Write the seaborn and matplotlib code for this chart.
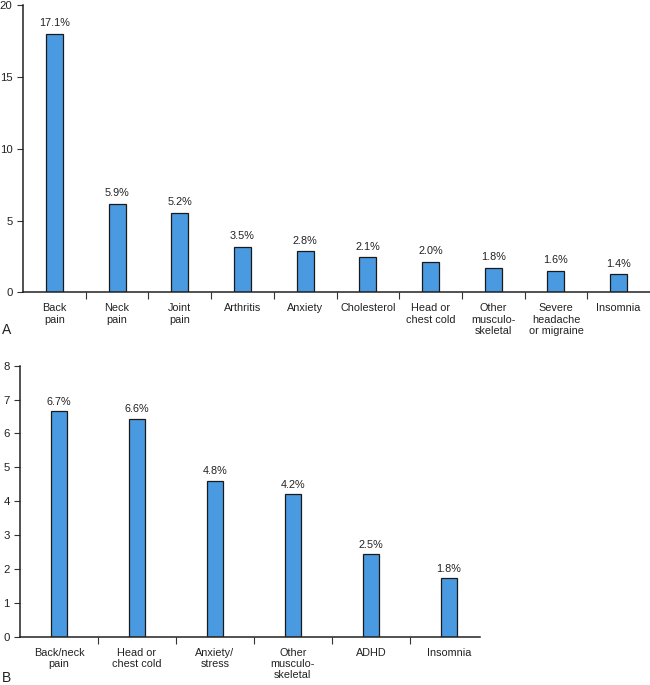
import matplotlib
matplotlib.use("Agg")
import matplotlib.pyplot as plt
import seaborn as sns
import pandas as pd

sns.set_theme(style="white")
plt.rcParams['font.family'] = ['Liberation Sans', 'DejaVu Sans']

cats_a = ["Back\npain", "Neck\npain", "Joint\npain", "Arthritis", "Anxiety",
          "Cholesterol", "Head or\nchest cold", "Other\nmusculo-\nskeletal",
          "Severe\nheadache\nor migraine", "Insomnia"]
vals_a = [18.0, 6.15, 5.55, 3.16, 2.86, 2.44, 2.13, 1.72, 1.48, 1.25]
labels_a = ["17.1%", "5.9%", "5.2%", "3.5%", "2.8%", "2.1%", "2.0%", "1.8%", "1.6%", "1.4%"]

cats_b = ["Back/neck\npain", "Head or\nchest cold", "Anxiety/\nstress",
          "Other\nmusculo-\nskeletal", "ADHD", "Insomnia"]
vals_b = [6.66, 6.44, 4.61, 4.22, 2.44, 1.72]
labels_b = ["6.7%", "6.6%", "4.8%", "4.2%", "2.5%", "1.8%"]

BAR = "#4a9ae2"
FS = 7.8
YFS = 8.2

fig = plt.figure(figsize=(6.5, 6.85), dpi=100)
axA = fig.add_axes([0.0354, 0.5733, 0.9646, 0.419])
axB = fig.add_axes([0.0308, 0.0705, 0.7077, 0.3956])


def panel(ax, cats, vals, labels, width, ylim, yticks, xright, gap_pts):
    df = pd.DataFrame({"cat": cats, "val": vals})
    sns.barplot(data=df, x="cat", y="val", ax=ax, color=BAR, saturation=1,
                width=width, edgecolor="#1a1a1a", linewidth=0.9)
    for p, lab in zip(ax.patches, labels):
        ax.annotate(lab, (p.get_x() + p.get_width() / 2, p.get_height()),
                    xytext=(0, gap_pts), textcoords="offset points",
                    ha="center", va="bottom", fontsize=FS, color="#222222")
    n = len(cats)
    ax.set_xlim(-0.5, xright)
    ax.set_ylim(*ylim)
    ax.set_yticks(yticks)
    ax.set_xlabel("")
    ax.set_ylabel("")
    ax.set_xticks([i + 0.5 for i in range(n - 1)])
    ax.set_xticklabels([])
    ax.set_xticks(list(range(n)), minor=True)
    ax.set_xticklabels(cats, minor=True, fontsize=FS, color="#222222",
                       linespacing=1.15, va="top")
    ax.tick_params(axis="x", which="major", direction="out", length=5,
                   width=0.8, color="#333333", bottom=True)
    ax.tick_params(axis="x", which="minor", length=0, pad=8, bottom=True)
    ax.tick_params(axis="y", direction="out", length=4.5, width=0.8,
                   color="#333333", labelsize=YFS, labelcolor="#222222", pad=3,
                   left=True)
    for s in ["top", "right"]:
        ax.spines[s].set_visible(False)
    for s in ["left", "bottom"]:
        ax.spines[s].set_color("#222222")
        ax.spines[s].set_linewidth(1.1)


panel(axA, cats_a, vals_a, labels_a, 0.27, (0, 20), [0, 5, 10, 15, 20], 9.5, 4)
panel(axB, cats_b, vals_b, labels_b, 0.21, (0, 8), list(range(0, 9)), 5.4, 3)

fig.text(0.003, 1 - 330 / 685, "A", fontsize=10, color="#222222", va="center")
fig.text(0.003, 1 - 678 / 685, "B", fontsize=10, color="#222222", va="center")

fig.savefig("out.png", dpi=100)
